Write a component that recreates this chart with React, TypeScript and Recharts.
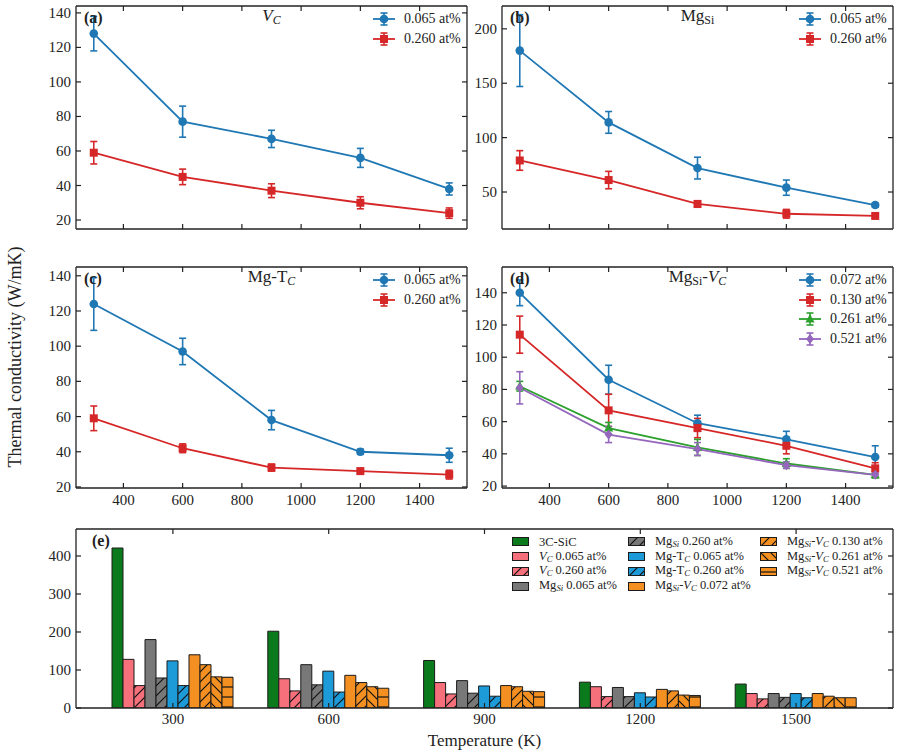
import React from "react";
import { LineChart, Line, BarChart, Bar, XAxis, YAxis, ErrorBar } from "recharts";

const FONT = "'Liberation Serif', 'Times New Roman', serif";
const INK = "#222";
const TICK_LEN = 5;

// temperatures (K) shared by every panel
const temps = [300, 600, 900, 1200, 1500];

// (a) V_C
const vc065 = [128, 77, 67, 56, 38];
const vc065Err = [10, 9, 5, 5.5, 3.5];
const vc260 = [59, 45, 37, 30, 24];
const vc260Err = [6.5, 4.5, 4, 3.5, 3];

// (b) Mg_Si
const mgsi065 = [180, 114, 72, 54, 38];
const mgsi065Err = [33, 10, 10, 7, 2];
const mgsi260 = [79, 61, 39, 30, 28];
const mgsi260Err = [9, 8, 3, 4, 2];

// (c) Mg-T_C
const mgtc065 = [124, 97, 58, 40, 38];
const mgtc065Err = [15, 7.5, 5.5, 1.5, 4];
const mgtc260 = [59, 42, 31, 29, 27];
const mgtc260Err = [7, 2.5, 2, 1.5, 2.5];

// (d) Mg_Si-V_C
const mv072 = [140, 86, 59, 49, 38];
const mv072Err = [8, 9, 5, 5, 7];
const mv130 = [114, 67, 56, 45, 31];
const mv130Err = [11.5, 10, 6, 5, 3.5];
const mv261 = [82, 56, 44, 34, 27];
const mv261Err = [3, 3.5, 5, 3, 2];
const mv521 = [81, 52, 43, 33, 27];
const mv521Err = [10, 5, 4, 2, 1.5];

// (e) pristine 3C-SiC reference
const sic = [421, 202, 125, 68, 63];

const X_DOMAIN: [number, number] = [240, 1560];
const X_TICKS = [400, 600, 800, 1000, 1200, 1400];
const Y_TICKS_20 = [20, 40, 60, 80, 100, 120, 140];
const Y_TICKS_B = [50, 100, 150, 200];
const Y_TICKS_E = [0, 100, 200, 300, 400];

const BLUE = "#1f77b4";
const RED = "#d62728";
const GREEN = "#2ca02c";
const PURPLE = "#9467bd";

const BAR_GREEN = "#0b7a1d";
const BAR_PINK = "#f5707b";
const BAR_GRAY = "#787878";
const BAR_BLUE = "#1d9ad8";
const BAR_ORANGE = "#f39021";

type Shape = "circle" | "square" | "triangle" | "diamond";
type Series = { name: string; values: number[]; errors: number[]; color: string; shape: Shape };
type Box = { l: number; t: number; r: number; b: number };

function marker(shape: Shape, cx: number, cy: number, color: string) {
  switch (shape) {
    case "circle":
      return <circle cx={cx} cy={cy} r={4.3} fill={color} />;
    case "square":
      return <rect x={cx - 4} y={cy - 4} width={8} height={8} fill={color} />;
    case "triangle":
      return <polygon points={`${cx},${cy - 5} ${cx - 4.6},${cy + 3.5} ${cx + 4.6},${cy + 3.5}`} fill={color} />;
    default:
      return <polygon points={`${cx},${cy - 5} ${cx + 4},${cy} ${cx},${cy + 5} ${cx - 4},${cy}`} fill={color} />;
  }
}

// inward tick marks, matplotlib style
const leftTick = (p: any) => (
  <g>
    <line x1={p.x} x2={p.x + TICK_LEN} y1={p.y} y2={p.y} stroke={INK} strokeWidth={1.2} />
    <text x={p.x - 5} y={p.y + 5} textAnchor="end" fontSize={15} fontFamily={FONT} fill={INK}>
      {p.payload.value}
    </text>
  </g>
);
const rightTick = (p: any) => (
  <line x1={p.x} x2={p.x - TICK_LEN} y1={p.y} y2={p.y} stroke={INK} strokeWidth={1.2} />
);
const topTick = (p: any) => (
  <line x1={p.x} x2={p.x} y1={p.y} y2={p.y + TICK_LEN} stroke={INK} strokeWidth={1.2} />
);
const bottomTick = (showLabel: boolean, dy: number) => (p: any) => (
  <g>
    <line x1={p.x} x2={p.x} y1={p.y} y2={p.y - TICK_LEN} stroke={INK} strokeWidth={1.2} />
    {showLabel && (
      <text x={p.x} y={p.y + dy} textAnchor="middle" fontSize={15} fontFamily={FONT} fill={INK}>
        {p.payload.value}
      </text>
    )}
  </g>
);

const frame = { stroke: INK, strokeWidth: 1.3 };

function LinePanel(props: {
  box: Box;
  yDomain: [number, number];
  yTicks: number[];
  series: Series[];
  tag: string;
  title: React.ReactNode;
  showX: boolean;
}) {
  const { box, yDomain, yTicks, series, tag, title, showX } = props;
  const W = box.r - box.l + 76 + 1 + 10;
  const H = box.b - box.t + 7 + 30;
  const plotW = box.r - box.l;
  const rows = temps.map((t, i) => {
    const row: Record<string, number> = { t };
    series.forEach((s, k) => {
      row[`v${k}`] = s.values[i];
      row[`e${k}`] = s.errors[i];
    });
    return row;
  });

  return (
    <div style={{ position: "absolute", left: box.l - 76, top: box.t - 7, width: W, height: H }}>
      <LineChart width={W} height={H} data={rows} margin={{ top: 6, right: 10, bottom: 0, left: 0 }}>
        <XAxis
          dataKey="t"
          type="number"
          domain={X_DOMAIN}
          allowDataOverflow
          ticks={X_TICKS}
          interval={0}
          height={30}
          tickSize={0}
          tickMargin={0}
          tickLine={false}
          axisLine={frame}
          tick={bottomTick(showX, 17)}
        />
        <XAxis
          xAxisId="top"
          orientation="top"
          dataKey="t"
          type="number"
          domain={X_DOMAIN}
          allowDataOverflow
          ticks={X_TICKS}
          interval={0}
          height={1}
          tickSize={0}
          tickMargin={0}
          tickLine={false}
          axisLine={frame}
          tick={topTick}
        />
        <YAxis
          type="number"
          domain={yDomain}
          allowDataOverflow
          ticks={yTicks}
          interval={0}
          width={76}
          tickSize={0}
          tickMargin={0}
          tickLine={false}
          axisLine={frame}
          tick={leftTick}
        />
        <YAxis
          yAxisId="r"
          orientation="right"
          type="number"
          domain={yDomain}
          allowDataOverflow
          ticks={yTicks}
          interval={0}
          width={1}
          tickSize={0}
          tickMargin={0}
          tickLine={false}
          axisLine={frame}
          tick={rightTick}
        />
        {series.map((s, k) => (
          <Line
            key={s.name}
            dataKey={`v${k}`}
            stroke={s.color}
            strokeWidth={1.8}
            isAnimationActive={false}
            activeDot={false}
            dot={(p: any) => <g key={`${k}-${p.index}`}>{marker(s.shape, p.cx, p.cy, s.color)}</g>}
          >
            <ErrorBar dataKey={`e${k}`} direction="y" width={3.5} stroke={s.color} strokeWidth={1.6} />
          </Line>
        ))}
      </LineChart>

      <div
        style={{
          position: "absolute",
          left: 76 + 8,
          top: 7 + 12,
          transform: "translateY(-50%)",
          fontFamily: FONT,
          fontWeight: "bold",
          fontSize: 16,
          lineHeight: 1,
          color: INK,
        }}
      >
        {tag}
      </div>
      <div
        style={{
          position: "absolute",
          left: 76,
          width: plotW,
          top: 7 + 11,
          transform: "translateY(-50%)",
          textAlign: "center",
          fontFamily: FONT,
          fontSize: 17,
          lineHeight: 1,
          color: INK,
        }}
      >
        {title}
      </div>
      <div style={{ position: "absolute", left: W - 11 - 94, top: 7 + 13 - 10, fontFamily: FONT, fontSize: 14, color: INK }}>
        {series.map((s) => (
          <div key={s.name} style={{ height: 19.7, display: "flex", alignItems: "center", whiteSpace: "nowrap" }}>
            <svg width={22} height={16} style={{ overflow: "visible" }}>
              <line x1={0} x2={22} y1={8} y2={8} stroke={s.color} strokeWidth={1.8} />
              <line x1={11} x2={11} y1={2} y2={14} stroke={s.color} strokeWidth={1.6} />
              <line x1={7.5} x2={14.5} y1={2} y2={2} stroke={s.color} strokeWidth={1.6} />
              <line x1={7.5} x2={14.5} y1={14} y2={14} stroke={s.color} strokeWidth={1.6} />
              {marker(s.shape, 11, 8, s.color)}
            </svg>
            <span style={{ marginLeft: 9 }}>{s.name}</span>
          </div>
        ))}
      </div>
    </div>
  );
}

const HATCH_FWD = "M0,10 L10,0 M-2,2 L2,-2 M8,12 L12,8";
const HATCH_BACK = "M0,0 L10,10 M-2,8 L2,12 M8,-2 L12,2";
const HATCH_FLAT = "M0,5 L10,5";

function hatch(id: string, color: string, d: string) {
  return (
    <pattern id={id} patternUnits="userSpaceOnUse" width={10} height={10}>
      <rect width={10} height={10} fill={color} />
      <path d={d} stroke="#111" strokeWidth={1.2} />
    </pattern>
  );
}

const SubSi = ({ italic }: { italic: boolean }) => (
  <sub style={{ fontSize: "0.7em", fontStyle: italic ? "italic" : "normal", verticalAlign: "-0.25em" }}>Si</sub>
);
const Vc = () => (
  <i>
    V<sub style={{ fontSize: "0.7em", verticalAlign: "-0.25em" }}>C</sub>
  </i>
);
const Tc = () => (
  <>
    T<sub style={{ fontSize: "0.7em", fontStyle: "italic", verticalAlign: "-0.25em" }}>C</sub>
  </>
);

const barSeries: { key: string; values: number[]; fill: string; label: React.ReactNode }[] = [
  { key: "sic", values: sic, fill: BAR_GREEN, label: <>3C-SiC</> },
  { key: "vc065", values: vc065, fill: BAR_PINK, label: <><Vc /> 0.065 at%</> },
  { key: "vc260", values: vc260, fill: "url(#h-pink)", label: <><Vc /> 0.260 at%</> },
  { key: "mgsi065", values: mgsi065, fill: BAR_GRAY, label: <>Mg<SubSi italic /> 0.065 at%</> },
  { key: "mgsi260", values: mgsi260, fill: "url(#h-gray)", label: <>Mg<SubSi italic /> 0.260 at%</> },
  { key: "mgtc065", values: mgtc065, fill: BAR_BLUE, label: <>Mg-<Tc /> 0.065 at%</> },
  { key: "mgtc260", values: mgtc260, fill: "url(#h-blue)", label: <>Mg-<Tc /> 0.260 at%</> },
  { key: "mv072", values: mv072, fill: BAR_ORANGE, label: <>Mg<SubSi italic />-<Vc /> 0.072 at%</> },
  { key: "mv130", values: mv130, fill: "url(#h-orange-f)", label: <>Mg<SubSi italic />-<Vc /> 0.130 at%</> },
  { key: "mv261", values: mv261, fill: "url(#h-orange-b)", label: <>Mg<SubSi italic />-<Vc /> 0.261 at%</> },
  { key: "mv521", values: mv521, fill: "url(#h-orange-h)", label: <>Mg<SubSi italic />-<Vc /> 0.521 at%</> },
];

function BarPanel({ box }: { box: Box }) {
  const W = box.r - box.l + 76 + 1 + 10;
  const H = box.b - box.t + 7 + 30;
  const rows = temps.map((t, i) => {
    const row: Record<string, number | string> = { t: String(t) };
    barSeries.forEach((s) => (row[s.key] = s.values[i]));
    return row;
  });
  const cols = [barSeries.slice(0, 4), barSeries.slice(4, 8), barSeries.slice(8)];
  const colX = [512, 628, 760];

  return (
    <div style={{ position: "absolute", left: box.l - 76, top: box.t - 7, width: W, height: H }}>
      <BarChart
        width={W}
        height={H}
        data={rows}
        margin={{ top: 6, right: 10, bottom: 0, left: 0 }}
        barGap={0}
        barSize={11}
      >
        <XAxis
          dataKey="t"
          padding={{ left: 19, right: 19 }}
          interval={0}
          height={30}
          tickSize={0}
          tickMargin={0}
          tickLine={false}
          axisLine={frame}
          tick={bottomTick(true, 16)}
        />
        <XAxis
          xAxisId="top"
          orientation="top"
          dataKey="t"
          padding={{ left: 19, right: 19 }}
          interval={0}
          height={1}
          tickSize={0}
          tickMargin={0}
          tickLine={false}
          axisLine={frame}
          tick={topTick}
        />
        <YAxis
          type="number"
          domain={[0, 471]}
          allowDataOverflow
          ticks={Y_TICKS_E}
          interval={0}
          width={76}
          tickSize={0}
          tickMargin={0}
          tickLine={false}
          axisLine={frame}
          tick={leftTick}
        />
        <YAxis
          yAxisId="r"
          orientation="right"
          type="number"
          domain={[0, 471]}
          allowDataOverflow
          ticks={Y_TICKS_E}
          interval={0}
          width={1}
          tickSize={0}
          tickMargin={0}
          tickLine={false}
          axisLine={frame}
          tick={rightTick}
        />
        {barSeries.map((s) => (
          <Bar key={s.key} dataKey={s.key} fill={s.fill} stroke="#1b1b1b" strokeWidth={1} isAnimationActive={false} />
        ))}
      </BarChart>

      <div
        style={{
          position: "absolute",
          left: 76 + 16,
          top: 7 + 12,
          transform: "translateY(-50%)",
          fontFamily: FONT,
          fontWeight: "bold",
          fontSize: 16,
          lineHeight: 1,
          color: INK,
        }}
      >
        (e)
      </div>
      {cols.map((col, c) => (
        <div
          key={c}
          style={{ position: "absolute", left: colX[c] - (box.l - 76), top: 7 + 13 - 7.35, fontFamily: FONT, fontSize: 12.5, color: INK }}
        >
          {col.map((s) => (
            <div key={s.key} style={{ height: 14.7, display: "flex", alignItems: "center", whiteSpace: "nowrap" }}>
              <svg width={17} height={9}>
                <rect x={0.5} y={0.5} width={16} height={8} fill={s.fill} stroke="#1b1b1b" strokeWidth={1} />
              </svg>
              <span style={{ marginLeft: 10, lineHeight: 1 }}>{s.label}</span>
            </div>
          ))}
        </div>
      ))}
    </div>
  );
}

const seriesA: Series[] = [
  { name: "0.065 at%", values: vc065, errors: vc065Err, color: BLUE, shape: "circle" },
  { name: "0.260 at%", values: vc260, errors: vc260Err, color: RED, shape: "square" },
];
const seriesB: Series[] = [
  { name: "0.065 at%", values: mgsi065, errors: mgsi065Err, color: BLUE, shape: "circle" },
  { name: "0.260 at%", values: mgsi260, errors: mgsi260Err, color: RED, shape: "square" },
];
const seriesC: Series[] = [
  { name: "0.065 at%", values: mgtc065, errors: mgtc065Err, color: BLUE, shape: "circle" },
  { name: "0.260 at%", values: mgtc260, errors: mgtc260Err, color: RED, shape: "square" },
];
const seriesD: Series[] = [
  { name: "0.072 at%", values: mv072, errors: mv072Err, color: BLUE, shape: "circle" },
  { name: "0.130 at%", values: mv130, errors: mv130Err, color: RED, shape: "square" },
  { name: "0.261 at%", values: mv261, errors: mv261Err, color: GREEN, shape: "triangle" },
  { name: "0.521 at%", values: mv521, errors: mv521Err, color: PURPLE, shape: "diamond" },
];

export default function App() {
  return (
    <div style={{ position: "absolute", left: 0, top: 0, width: 900, height: 755, background: "#fff", fontFamily: FONT }}>
      <svg width={0} height={0} style={{ position: "absolute" }}>
        <defs>
          {hatch("h-pink", BAR_PINK, HATCH_FWD)}
          {hatch("h-gray", BAR_GRAY, HATCH_FWD)}
          {hatch("h-blue", BAR_BLUE, HATCH_FWD)}
          {hatch("h-orange-f", BAR_ORANGE, HATCH_FWD)}
          {hatch("h-orange-b", BAR_ORANGE, HATCH_BACK)}
          {hatch("h-orange-h", BAR_ORANGE, HATCH_FLAT)}
        </defs>
      </svg>

      <LinePanel
        box={{ l: 76, t: 6, r: 467, b: 229 }}
        yDomain={[14.8, 144]}
        yTicks={Y_TICKS_20}
        series={seriesA}
        tag="(a)"
        title={<Vc />}
        showX={false}
      />
      <LinePanel
        box={{ l: 502, t: 6, r: 893, b: 229 }}
        yDomain={[16, 221]}
        yTicks={Y_TICKS_B}
        series={seriesB}
        tag="(b)"
        title={<>Mg<SubSi italic={false} /></>}
        showX={false}
      />
      <LinePanel
        box={{ l: 76, t: 267, r: 467, b: 488 }}
        yDomain={[19.4, 145]}
        yTicks={Y_TICKS_20}
        series={seriesC}
        tag="(c)"
        title={<>Mg-<Tc /></>}
        showX
      />
      <LinePanel
        box={{ l: 502, t: 267, r: 893, b: 488 }}
        yDomain={[18.8, 156]}
        yTicks={Y_TICKS_20}
        series={seriesD}
        tag="(d)"
        title={<>Mg<SubSi italic={false} />-<Vc /></>}
        showX
      />
      <BarPanel box={{ l: 76, t: 529, r: 893, b: 708 }} />

      <div
        style={{
          position: "absolute",
          left: 15,
          top: 357,
          transform: "translate(-50%, -50%) rotate(-90deg)",
          whiteSpace: "nowrap",
          fontSize: 18,
          color: INK,
          lineHeight: 1,
        }}
      >
        Thermal conductivity (W/mK)
      </div>
      <div
        style={{
          position: "absolute",
          left: 484.5,
          top: 740,
          transform: "translate(-50%, -50%)",
          whiteSpace: "nowrap",
          fontSize: 17,
          color: INK,
          lineHeight: 1,
        }}
      >
        Temperature (K)
      </div>
    </div>
  );
}
